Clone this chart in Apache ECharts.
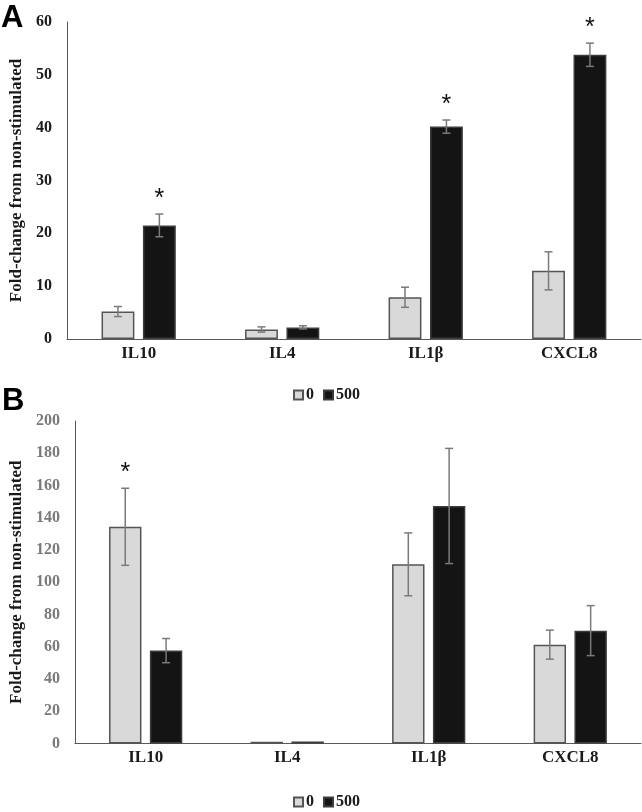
<!DOCTYPE html>
<html>
<head>
<meta charset="utf-8">
<script src="https://cdn.jsdelivr.net/npm/echarts@6/dist/echarts.min.js"></script>
<style>
html,body{margin:0;padding:0;background:#fff;}
#chart{width:642px;height:812px;}
</style>
</head>
<body>
<div id="chart"></div>
<script>
// ---- data ----
const categories = ['IL10', 'IL4', 'IL1β', 'CXCL8'];
const seriesNames = ['0', '500'];
const yAxisTitle = 'Fold-change from non-stimulated';
const panelLetters = ['A', 'B'];

// Panel A
const aMean0   = [5.2, 1.8, 7.9, 12.9];
const aErr0    = [0.95, 0.5, 1.9, 3.6];
const aMean500 = [21.5, 2.2, 40.2, 53.8];
const aErr500  = [2.15, 0.3, 1.25, 2.2];
const aSig0    = [false, false, false, false];
const aSig500  = [true, false, true, true];
const aAxis    = { min: 0, max: 60, interval: 10 };

// Panel B
const bMean0   = [134.4, 1.1, 111.1, 61.3];
const bErr0    = [23.9, 0, 19.5, 9.0];
const bMean500 = [57.6, 1.2, 147.3, 70.0];
const bErr500  = [7.5, 0, 35.7, 15.5];
const bSig0    = [true, false, false, false];
const bSig500  = [false, false, false, false];
const bAxis    = { min: 0, max: 200, interval: 20 };

// ---- styles ----
const FONT = '"Liberation Serif", "Times New Roman", serif';
const LIGHT = '#d9d9da';
const DARK = '#141414';
const BAR_W = 0.229;   // fraction of band
const BAR_GAP = 0.26;  // fraction of bar width

const chart = echarts.init(document.getElementById('chart'), null, { renderer: 'canvas' });

function errSeries(gridIdx, means, errs, sigs, sideSign, name) {
  return {
    type: 'custom',
    name: name + '_err',
    xAxisIndex: gridIdx, yAxisIndex: gridIdx,
    z: 5,
    silent: true,
    data: means.map((m, i) => [i, m, errs[i], sigs[i] ? 1 : 0]),
    renderItem: function (params, api) {
      const i = api.value(0), m = api.value(1), e = api.value(2), s = api.value(3);
      const band = api.size([1, 0])[0];
      const bw = band * BAR_W;
      const off = sideSign * bw * (1 + BAR_GAP) / 2;
      const top = api.coord([i, m + e]);
      const bot = api.coord([i, m - e]);
      const x = top[0] + off;
      const cap = 4;
      const children = [];
      const st = { stroke: '#7a7a7a', lineWidth: 1.5 };
      if (e > 0) {
        children.push({ type: 'line', shape: { x1: x, y1: top[1], x2: x, y2: bot[1] }, style: st });
        children.push({ type: 'line', shape: { x1: x - cap, y1: top[1], x2: x + cap, y2: top[1] }, style: st });
        children.push({ type: 'line', shape: { x1: x - cap, y1: bot[1], x2: x + cap, y2: bot[1] }, style: st });
      }
      if (s) {
        children.push({
          type: 'text',
          style: {
            text: '*', x: x, y: top[1] - 15,
            fill: '#111', font: '25px "Liberation Sans", Arial, sans-serif',
            align: 'center', verticalAlign: 'middle'
          }
        });
      }
      return { type: 'group', children: children };
    }
  };
}

function barSeries(gridIdx, name, means, color, border) {
  return {
    type: 'bar', name: name,
    xAxisIndex: gridIdx, yAxisIndex: gridIdx,
    data: means,
    barWidth: (BAR_W * 100) + '%',
    barGap: (BAR_GAP * 100) + '%',
    itemStyle: { color: color, borderColor: border, borderWidth: 1.5 },
    emphasis: { disabled: true },
    animation: false
  };
}

function yAx(gridIdx, ax, labelColor, nameGap) {
  return {
    type: 'value', gridIndex: gridIdx,
    min: ax.min, max: ax.max, interval: ax.interval,
    name: yAxisTitle, nameLocation: 'middle', nameGap: nameGap,
    nameTextStyle: { fontFamily: FONT, fontWeight: 'bold', fontSize: 17, color: '#1a1a1a' },
    axisLine: { show: true, lineStyle: { color: '#595959', width: 1 } },
    axisTick: { show: false },
    splitLine: { show: false },
    axisLabel: { fontFamily: FONT, fontWeight: 'bold', fontSize: 16, color: labelColor, margin: 15 }
  };
}

function xAx(gridIdx) {
  return {
    type: 'category', gridIndex: gridIdx, data: categories,
    axisLine: { show: true, lineStyle: { color: '#595959', width: 1 } },
    axisTick: { show: false },
    axisLabel: { fontFamily: FONT, fontWeight: 'bold', fontSize: 17, color: '#1a1a1a', margin: 6 }
  };
}

const option = {
  backgroundColor: '#fff',
  animation: false,
  grid: [
    { left: 63.5, top: 22, right: 1, height: 317 },
    { left: 72, top: 421, right: 1, height: 322.5 }
  ],
  xAxis: [xAx(0), xAx(1)],
  yAxis: [yAx(0, aAxis, '#1a1a1a', 35), yAx(1, bAxis, '#7a7a7a', 42)],
  legend: [
    {
      top: 382, left: 288, itemWidth: 9, itemHeight: 9, itemGap: 9,
      icon: 'rect', data: seriesNames,
      textStyle: { fontFamily: FONT, fontWeight: 'bold', fontSize: 16, color: '#1a1a1a', padding: [0, 0, 0, -2] }
    },
    {
      top: 789, left: 288, itemWidth: 9, itemHeight: 9, itemGap: 9,
      icon: 'rect', data: seriesNames,
      textStyle: { fontFamily: FONT, fontWeight: 'bold', fontSize: 16, color: '#1a1a1a', padding: [8, 0, 0, -2] }
    }
  ],
  graphic: [
    { type: 'text', left: 1, top: 3, style: { text: panelLetters[0], font: 'bold 31px "Liberation Sans", Arial, sans-serif', fill: '#000' } },
    { type: 'text', left: 2, top: 386, style: { text: panelLetters[1], font: 'bold 31px "Liberation Sans", Arial, sans-serif', fill: '#000' } }
  ],
  series: [
    barSeries(0, seriesNames[0], aMean0, LIGHT, '#555'),
    barSeries(0, seriesNames[1], aMean500, DARK, '#3c3c3c'),
    errSeries(0, aMean0, aErr0, aSig0, -1, seriesNames[0]),
    errSeries(0, aMean500, aErr500, aSig500, 1, seriesNames[1]),
    barSeries(1, seriesNames[0], bMean0, LIGHT, '#555'),
    barSeries(1, seriesNames[1], bMean500, DARK, '#3c3c3c'),
    errSeries(1, bMean0, bErr0, bSig0, -1, seriesNames[0]),
    errSeries(1, bMean500, bErr500, bSig500, 1, seriesNames[1])
  ]
};
chart.setOption(option);
</script>
</body>
</html>
